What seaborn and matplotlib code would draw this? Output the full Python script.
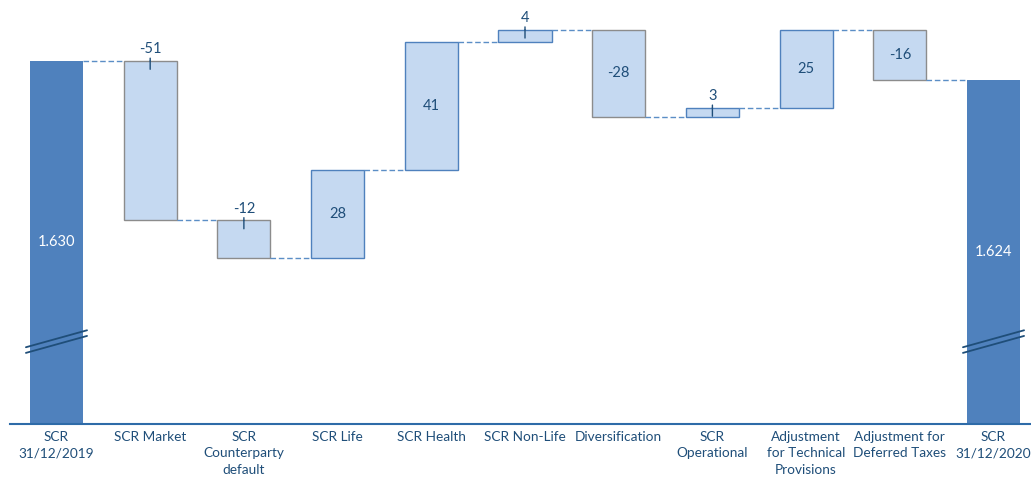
import matplotlib
matplotlib.use("Agg")
import matplotlib.pyplot as plt
import matplotlib.transforms as mtransforms
import numpy as np
import pandas as pd
import seaborn as sns

# Solvency capital requirement walk, 2019 -> 2020 (EUR m)
categories = [
    "SCR\n31/12/2019", "SCR Market", "SCR\nCounterparty\ndefault", "SCR Life",
    "SCR Health", "SCR Non-Life", "Diversification", "SCR\nOperational",
    "Adjustment\nfor Technical\nProvisions", "Adjustment for\nDeferred Taxes",
    "SCR\n31/12/2020",
]
start_total = 1630
changes = [-51, -12, 28, 41, 4, -28, 3, 25, -16]
end_total = 1624

# Steps whose value label sits above the bar with a small marker
labels_above = {"SCR Market", "SCR\nCounterparty\ndefault", "SCR Non-Life", "SCR\nOperational"}

# Build the waterfall table
levels = np.cumsum([start_total] + changes)
bottoms, heights, kinds, values = [0], [start_total], ["total"], [start_total]
for prev, cur, d in zip(levels[:-1], levels[1:], changes):
    bottoms.append(min(prev, cur))
    heights.append(abs(d))
    kinds.append("up" if d > 0 else "down")
    values.append(d)
bottoms.append(0)
heights.append(end_total)
kinds.append("total")
values.append(end_total)
df = pd.DataFrame({"category": categories, "bottom": bottoms, "height": heights,
                   "kind": kinds, "value": values})

DARK = "#4F81BD"
LIGHT = "#C5D9F1"
TEXT = "#1F4E79"
EDGE_UP = "#4F81BD"
EDGE_DOWN = "#8C8C8C"
CONNECT = "#5B8EC6"

sns.set_style("white")
plt.rcParams["font.family"] = ["Lato", "DejaVu Sans"]

fig = plt.figure(figsize=(10.31, 4.78), dpi=100)
ax = fig.add_axes([10 / 1031, 54 / 478, 1 - 10 / 1031, 404 / 478])

bar_w = 0.566
sns.barplot(data=df, x="category", y="height", bottom=df["bottom"].to_numpy(),
            color=LIGHT, width=bar_w, ax=ax, saturation=1)

for patch, kind in zip(ax.patches, df["kind"]):
    if kind == "total":
        patch.set_facecolor(DARK)
        patch.set_edgecolor(DARK)
        patch.set_linewidth(0)
    else:
        patch.set_facecolor(LIGHT)
        patch.set_edgecolor(EDGE_UP if kind == "up" else EDGE_DOWN)
        patch.set_linewidth(1.0)

ymin, ymax = 1513.9, 1643.1
ax.set_ylim(ymin, ymax)
ax.set_xlim(-0.496, 10.40)

# Dashed connectors between consecutive bars
level_after = [start_total] + list(levels[1:]) + [end_total]
for i in range(len(categories) - 1):
    y = level_after[i]
    ax.plot([i + bar_w / 2, i + 1 - bar_w / 2], [y, y], color=CONNECT,
            lw=1.0, ls=(0, (4, 2)), zorder=1)

# Value labels
for i, row in df.iterrows():
    if row["kind"] == "total":
        mid = (ymin + row["height"]) / 2
        ax.text(i, mid, f"{row['value']:,}".replace(",", "."), ha="center",
                va="center", color="white", fontsize=10.5)
    elif row["category"] in labels_above:
        top = row["bottom"] + row["height"]
        ax.annotate(f"{row['value']}", (i, top), xytext=(0, 3.5),
                    textcoords="offset points", ha="center", va="bottom",
                    color=TEXT, fontsize=10.5)
        # short marker tying the label to the bar top
        ax.annotate("", (i, top), xytext=(0, 2), textcoords="offset points",
                    arrowprops=dict(arrowstyle="-", color=TEXT, lw=1.0,
                                    shrinkA=0, shrinkB=0))
        ax.annotate("", (i, top), xytext=(0, -6), textcoords="offset points",
                    arrowprops=dict(arrowstyle="-", color=TEXT, lw=1.0,
                                    shrinkA=0, shrinkB=0))
    else:
        mid = row["bottom"] + row["height"] / 2
        ax.text(i, mid, f"{row['value']}", ha="center", va="center",
                color=TEXT, fontsize=10.5)

# Axis-break marks across the two total bars
blend = mtransforms.blended_transform_factory(ax.transData, ax.transAxes)
for i in (0, len(categories) - 1):
    for y0, y1 in ((0.190, 0.232), (0.176, 0.218)):
        ax.plot([i - 0.326, i + 0.326], [y0, y1], color="#1F4E79", lw=1.3,
                transform=blend, clip_on=False, zorder=5)

ax.set_xlabel("")
ax.set_ylabel("")
ax.set_yticks([])
for side in ("top", "right", "left"):
    ax.spines[side].set_visible(False)
ax.spines["bottom"].set_color("#2E6BA8")
ax.spines["bottom"].set_linewidth(1.5)
ax.tick_params(axis="x", length=0, pad=5, labelsize=9.8, labelcolor=TEXT)
for lbl in ax.get_xticklabels():
    lbl.set_linespacing(1.45)

fig.savefig("out.png", dpi=100)
